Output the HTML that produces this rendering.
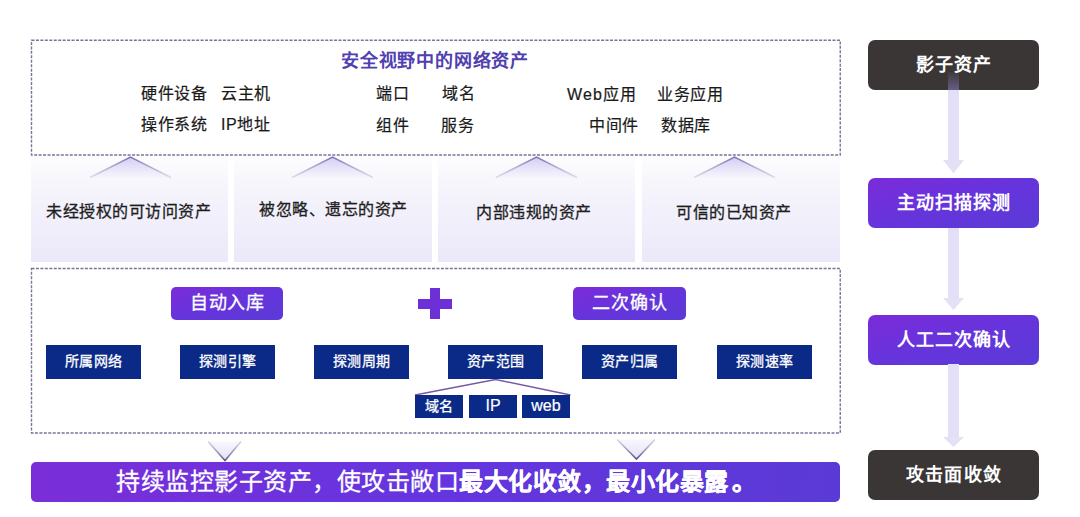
<!DOCTYPE html>
<html lang="zh-CN">
<head>
<meta charset="utf-8">
<style>
html,body{margin:0;padding:0;}
body{width:1080px;height:517px;position:relative;overflow:hidden;background:#fff;font-family:"Liberation Sans",sans-serif;color:#1a1a1a;}
.a{position:absolute;white-space:nowrap;line-height:1;}
.card{position:absolute;top:156px;height:106px;background:linear-gradient(to bottom,#fdfdfe 0%,#f8f7fc 20%,#f1f0fb 55%,#ebe9f9 100%);}
.ct{position:absolute;top:204px;font-size:16px;letter-spacing:0.55px;-webkit-text-stroke:0.3px #1e1e1e;color:#1e1e1e;white-space:nowrap;line-height:1;}
.pbtn{position:absolute;border-radius:5px;-webkit-text-stroke:0.3px #fff;background:linear-gradient(to bottom right,#7b2bd9 0%,#6634dc 50%,#5a3bd6 100%);color:#fff;text-align:center;}
.nv{position:absolute;top:345px;width:95px;height:34px;background:#0b2a88;color:#fff;font-size:14px;-webkit-text-stroke:0.3px #fff;letter-spacing:0.3px;text-indent:0.3px;text-align:center;line-height:33px;}
.sb{position:absolute;top:395px;width:48px;height:23px;background:#0b2a88;color:#fff;font-size:14px;-webkit-text-stroke:0.3px #fff;text-align:center;line-height:22px;}
.rb{position:absolute;left:868px;width:171px;height:50px;border-radius:7px;color:#fff;font-size:18px;letter-spacing:1.1px;text-indent:1.1px;font-weight:700;text-align:center;line-height:50px;}
.dark{background:#3a3636;}
.purp{background:linear-gradient(to bottom right,#7b2bd9 0%,#6634dc 50%,#5a3bd6 100%);}
.t16{font-size:16px;letter-spacing:0.6px;color:#1a1a1a;-webkit-text-stroke:0.2px #1a1a1a;}
</style>
</head>
<body>
<!-- dashed boxes -->
<svg class="a" style="left:0;top:0" width="1080" height="517">
  <rect x="31.5" y="40.25" width="808.75" height="114.75" fill="none" stroke="#80709a" stroke-width="1.4" stroke-dasharray="3 1.45"/>
  <rect x="31.5" y="268.5" width="808.75" height="164.5" fill="none" stroke="#80709a" stroke-width="1.4" stroke-dasharray="3 1.45"/>
</svg>

<!-- top box content -->
<div class="a" style="left:341px;top:52px;font-size:18px;letter-spacing:0.8px;font-weight:700;color:#5040b0;">安全视野中的网络资产</div>
<div class="a t16" style="left:141px;top:86px;">硬件设备</div>
<div class="a t16" style="left:221px;top:86px;">云主机</div>
<div class="a t16" style="left:141px;top:117px;">操作系统</div>
<div class="a t16" style="left:221px;top:117px;">IP地址</div>
<div class="a t16" style="left:376px;top:86px;">端口</div>
<div class="a t16" style="left:442px;top:86px;">域名</div>
<div class="a t16" style="left:376px;top:118px;">组件</div>
<div class="a t16" style="left:441px;top:118px;">服务</div>
<div class="a t16" style="left:567px;top:87px;"><span style="letter-spacing:1.2px">Web</span>应用</div>
<div class="a t16" style="left:657px;top:87px;">业务应用</div>
<div class="a t16" style="left:589px;top:118px;">中间件</div>
<div class="a t16" style="left:661px;top:118px;">数据库</div>

<!-- cards -->
<div class="card" style="left:31px;width:197px;"></div>
<div class="card" style="left:234px;width:198px;"></div>
<div class="card" style="left:438px;width:197px;"></div>
<div class="card" style="left:642px;width:198px;"></div>

<svg class="a" style="left:0;top:0" width="1080" height="517">
  <defs>
    <linearGradient id="tf" x1="0" y1="0" x2="0" y2="1">
      <stop offset="0" stop-color="#d2ccf4"/>
      <stop offset="0.6" stop-color="#e4e0f8" stop-opacity="0.8"/>
      <stop offset="1" stop-color="#f0eefb" stop-opacity="0.4"/>
    </linearGradient>
    <linearGradient id="ts" x1="0" y1="0" x2="1" y2="0">
      <stop offset="0" stop-color="#c4c0d2" stop-opacity="0.5"/>
      <stop offset="0.5" stop-color="#7a70b4"/>
      <stop offset="1" stop-color="#c4c0d2" stop-opacity="0.5"/>
    </linearGradient>
    <linearGradient id="dst" gradientUnits="userSpaceOnUse" x1="0" y1="441" x2="0" y2="461">
      <stop offset="0" stop-color="#b8b2cc" stop-opacity="0.5"/>
      <stop offset="1" stop-color="#5e5088"/>
    </linearGradient>
    <linearGradient id="dst2" gradientUnits="userSpaceOnUse" x1="0" y1="439" x2="0" y2="459">
      <stop offset="0" stop-color="#b8b2cc" stop-opacity="0.5"/>
      <stop offset="1" stop-color="#5e5088"/>
    </linearGradient>
    <linearGradient id="df" x1="0" y1="0" x2="0" y2="1">
      <stop offset="0" stop-color="#f8f7fd"/>
      <stop offset="1" stop-color="#e4e0f8"/>
    </linearGradient>
  </defs>
  <g>
    <path d="M90,177.5 L130.5,157 L171,177.5 Z" fill="url(#tf)"/>
    <path d="M90,177.5 L130.5,157 L171,177.5" fill="none" stroke="url(#ts)" stroke-width="1.5"/>
    <path d="M292,177.5 L332.5,157 L373,177.5 Z" fill="url(#tf)"/>
    <path d="M292,177.5 L332.5,157 L373,177.5" fill="none" stroke="url(#ts)" stroke-width="1.5"/>
    <path d="M496,177.5 L536.5,157 L577,177.5 Z" fill="url(#tf)"/>
    <path d="M496,177.5 L536.5,157 L577,177.5" fill="none" stroke="url(#ts)" stroke-width="1.5"/>
    <path d="M694,177.5 L734.5,157 L775,177.5 Z" fill="url(#tf)"/>
    <path d="M694,177.5 L734.5,157 L775,177.5" fill="none" stroke="url(#ts)" stroke-width="1.5"/>
  </g>
  <!-- down triangles -->
  <path d="M208,441.5 L225,460.5 L241,441.5 Z" fill="url(#df)"/>
  <path d="M208,441.5 L225,460.5 L241,441.5" fill="none" stroke="url(#dst)" stroke-width="1.6"/>
  <path d="M617,439.5 L636.5,459 L655,439.5 Z" fill="url(#df)"/>
  <path d="M617,439.5 L636.5,459 L655,439.5" fill="none" stroke="url(#dst2)" stroke-width="1.6"/>
  <!-- tree lines -->
  <path d="M415,395 L495.5,379.5 L570.5,395" fill="none" stroke="#7a58a6" stroke-width="1.5"/>
</svg>

<div class="ct" style="left:46px;">未经授权的可访问资产</div>
<div class="ct" style="left:259px;top:202px;">被忽略、遗忘的资产</div>
<div class="ct" style="left:476px;top:205px;">内部违规的资产</div>
<div class="ct" style="left:676px;top:205px;">可信的已知资产</div>

<!-- middle -->
<div class="pbtn" style="left:171px;top:287px;width:112px;height:33px;line-height:33px;font-size:18px;letter-spacing:0.75px;text-indent:0.75px;">自动入库</div>
<div class="pbtn" style="left:573px;top:287px;width:113px;height:33px;line-height:33px;font-size:18px;letter-spacing:0.75px;text-indent:0.75px;">二次确认</div>
<div class="a" style="left:418px;top:299px;width:34px;height:10px;background:#6d2fd6;"></div>
<div class="a" style="left:430px;top:288px;width:10px;height:31px;background:#6d2fd6;"></div>

<div class="nv" style="left:46px;">所属网络</div>
<div class="nv" style="left:180px;">探测引擎</div>
<div class="nv" style="left:314px;">探测周期</div>
<div class="nv" style="left:448px;">资产范围</div>
<div class="nv" style="left:582px;">资产归属</div>
<div class="nv" style="left:717px;">探测速率</div>

<div class="sb" style="left:415px;">域名</div>
<div class="sb" style="left:469px;font-size:16px;-webkit-text-stroke:0.2px #fff;">IP</div>
<div class="sb" style="left:522px;font-size:16px;-webkit-text-stroke:0.2px #fff;">web</div>

<!-- bottom bar -->
<div class="a" style="left:31px;top:462px;width:809px;height:40px;border-radius:5px;background:linear-gradient(100deg,#7a2ed8 0%,#6535df 50%,#5a3ad6 100%);"></div>
<div class="a" style="left:116px;top:466px;font-size:24px;letter-spacing:0.5px;-webkit-text-stroke:0.3px #fff;color:#fff;line-height:32px;">持续监控影子资产，使攻击敞口<b>最大化收敛，最小化暴露<span style="margin-left:3px">。</span></b></div>

<!-- right column -->
<div class="rb dark" style="top:40px;">影子资产</div>
<div class="rb purp" style="top:178px;">主动扫描探测</div>
<div class="rb purp" style="top:315px;">人工二次确认</div>
<div class="rb dark" style="top:450px;">攻击面收敛</div>

<svg class="a" style="left:0;top:0" width="1080" height="517">
  <defs>
    <linearGradient id="sh0" x1="0" y1="0" x2="0" y2="1">
      <stop offset="0" stop-color="#9a90e0" stop-opacity="0.05"/>
      <stop offset="1" stop-color="#9a90e0" stop-opacity="0.45"/>
    </linearGradient>
    <linearGradient id="sh1" x1="0" y1="0" x2="0" y2="1">
      <stop offset="0" stop-color="#dcd8f6" stop-opacity="0"/>
      <stop offset="0.35" stop-color="#dcd8f6" stop-opacity="0.5"/>
      <stop offset="1" stop-color="#dcd8f6"/>
    </linearGradient>
  </defs>
  <rect x="948" y="72" width="11" height="18" fill="url(#sh0)"/>
  <rect x="948" y="90" width="11" height="72" fill="#e2dff7"/>
  <path d="M943,160 L953.5,173.5 L964,160 Z" fill="#e4e1f7"/>
  <rect x="948" y="228" width="11" height="72" fill="#e2dff7"/>
  <path d="M943,298 L953.5,310 L964,298 Z" fill="#e4e1f7"/>
  <rect x="948" y="364" width="11" height="75" fill="#e2dff7"/>
  <path d="M943,437 L953.5,447 L964,437 Z" fill="#e4e1f7"/>
</svg>
</body>
</html>
